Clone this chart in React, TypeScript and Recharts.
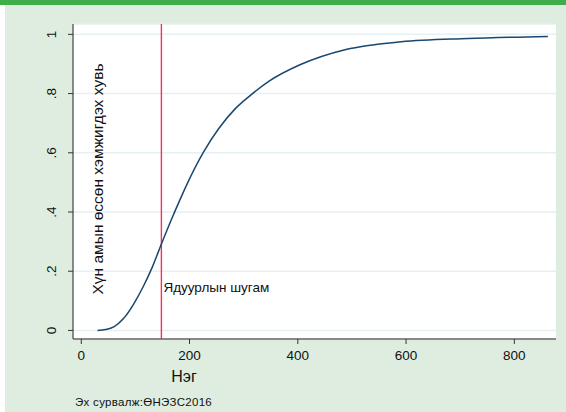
import { CartesianGrid, Line, LineChart, ReferenceLine, XAxis, YAxis } from "recharts";

// cumulative share of population by consumption (thousand MNT)
const consumption = [30, 45, 60, 78, 97, 115, 131, 148, 165, 182, 193, 226, 254, 285, 313, 347, 405, 489, 591, 714, 862];
const cumulativeShare = [
  0, 0.003, 0.012, 0.04, 0.09, 0.15, 0.213, 0.292, 0.368, 0.44, 0.485, 0.603, 0.682, 0.75, 0.795, 0.842, 0.898,
  0.949, 0.975, 0.986, 0.993,
];

const povertyLine = 148;

const xTicks = [0, 200, 400, 600, 800];
const xTickLabels = ["0", "200", "400", "600", "800"];
const yTicks = [0, 0.2, 0.4, 0.6, 0.8, 1];
const yTickLabels = ["0", ".2", ".4", ".6", ".8", "1"];

const FONT = "'Liberation Sans', Arial, sans-serif";

const chartData = consumption.map((x, i) => ({ x, share: cumulativeShare[i] }));

function YTick({ x, y, index }: any) {
  const cx = x - 14;
  return (
    <text
      x={cx}
      y={y}
      transform={`rotate(-90, ${cx}, ${y})`}
      textAnchor="middle"
      dominantBaseline="central"
      fontSize={13.5}
      fontFamily={FONT}
      fill="#111"
    >
      {yTickLabels[index]}
    </text>
  );
}

function XTick({ x, y, index }: any) {
  return (
    <text x={x} y={y + 9} textAnchor="middle" dominantBaseline="central" fontSize={13.5} fontFamily={FONT} fill="#111">
      {xTickLabels[index]}
    </text>
  );
}

export default function App() {
  return (
    <div style={{ position: "relative", width: 566, height: 412, background: "#fff", overflow: "hidden" }}>
      <style>{`body{margin:0}`}</style>
      <div style={{ position: "absolute", left: 5, top: 0, right: 0, bottom: 0, background: "#dfede0" }} />
      <div style={{ position: "absolute", left: 0, top: 0, right: 0, height: 5, background: "#3fae4a" }} />
      <div style={{ position: "absolute", left: 0, top: 0 }}>
        <LineChart width={566} height={412} data={chartData} margin={{ top: 24, right: 10, bottom: 0, left: 0 }}>
          <CartesianGrid vertical={false} stroke="#e6eff2" strokeWidth={1.5} fill="#ffffff" />
          <XAxis
            dataKey="x"
            type="number"
            domain={[-15.3, 877]}
            allowDataOverflow
            ticks={xTicks}
            interval={0}
            height={73}
            stroke="#666"
            strokeWidth={1.5}
            tickSize={5}
            tickLine={{ stroke: "#333", strokeWidth: 1 }}
            tick={<XTick />}
            label={{
              content: ({ viewBox }: any) => (
                <text
                  x={(viewBox?.x ?? 73) + 111}
                  y={(viewBox?.y ?? 339) + 37}
                  textAnchor="middle"
                  dominantBaseline="central"
                  fontSize={16}
                  fontFamily={FONT}
                  fill="#111"
                >
                  Нэг
                </text>
              ),
            }}
          />
          <YAxis
            type="number"
            domain={[-0.029, 1.035]}
            allowDataOverflow
            ticks={yTicks}
            interval={0}
            width={73}
            stroke="#666"
            strokeWidth={1.5}
            tickSize={5}
            tickLine={{ stroke: "#333", strokeWidth: 1 }}
            tick={<YTick />}
            label={{
              content: ({ viewBox }: any) => {
                const lx = (viewBox?.x ?? 0) + (viewBox?.width ?? 73) + 24;
                const ly = 179;
                return (
                  <text
                    x={lx}
                    y={ly}
                    transform={`rotate(-90, ${lx}, ${ly})`}
                    textAnchor="middle"
                    dominantBaseline="central"
                    fontSize={15.5}
                    fontFamily={FONT}
                    fill="#111"
                  >
                    Хүн амын өссөн хэмжигдэх хувь
                  </text>
                );
              },
            }}
          />
          <ReferenceLine
            x={povertyLine}
            stroke="#ff2d5f"
            strokeOpacity={1}
            strokeWidth={1.4}
            label={{
              content: ({ viewBox }: any) => (
                <text
                  x={(viewBox?.x ?? 160) + 2}
                  y={287}
                  dominantBaseline="central"
                  fontSize={13.5}
                  fontFamily={FONT}
                  fill="#111"
                >
                  Ядуурлын шугам
                </text>
              ),
            }}
          />
          <Line
            type="monotone"
            dataKey="share"
            stroke="#1a476f"
            strokeWidth={1.5}
            dot={false}
            isAnimationActive={false}
          />
        </LineChart>
      </div>
      <div
        style={{
          position: "absolute",
          left: 75,
          top: 395,
          fontFamily: FONT,
          fontSize: 11.5,
          color: "#111",
          letterSpacing: 0.3,
          whiteSpace: "nowrap",
          lineHeight: "14px",
        }}
      >
        Эх сурвалж:ӨНЭЗС2016
      </div>
    </div>
  );
}
